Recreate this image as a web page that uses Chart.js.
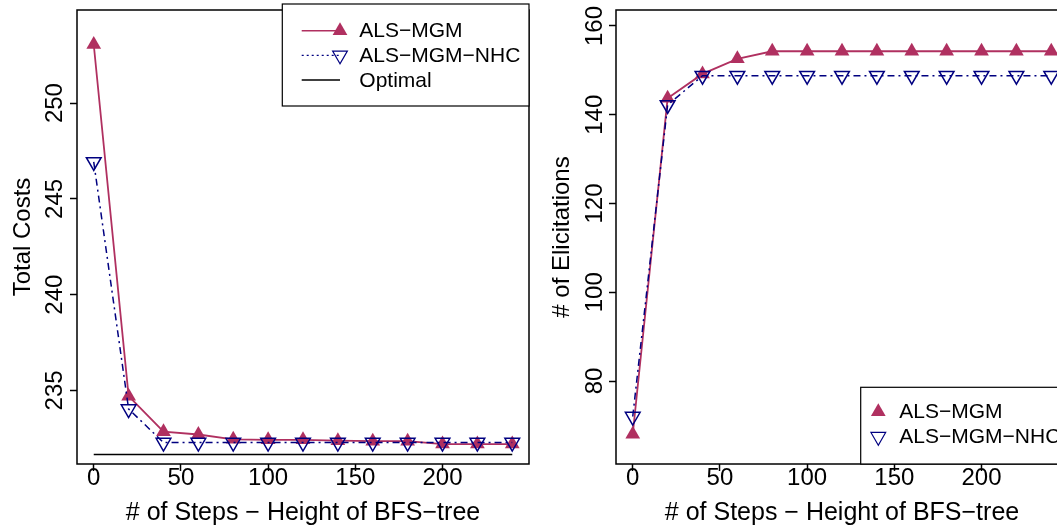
<!DOCTYPE html>
<html>
<head>
<meta charset="utf-8">
<script src="https://cdn.jsdelivr.net/npm/chart.js@4.4.1/dist/chart.umd.min.js"></script>
<style>
  html, body { margin: 0; padding: 0; background: #fff; overflow: hidden; width: 1057px; height: 529px; }
  .wrap { position: absolute; top: 0; width: 545px; height: 529px; }
</style>
</head>
<body>
<div class="wrap" style="left:0"><canvas id="cost-chart" width="545" height="529"></canvas></div>
<div class="wrap" style="left:545px"><canvas id="elic-chart" width="545" height="529"></canvas></div>
<script>
const steps = [0, 20, 40, 60, 80, 100, 120, 140, 160, 180, 200, 220, 240];
const costMgm = [253.06, 234.7, 232.85, 232.7, 232.45, 232.42, 232.42, 232.38, 232.35, 232.35, 232.2, 232.2, 232.2];
const costNhc = [246.93, 234.03, 232.28, 232.28, 232.28, 232.28, 232.28, 232.28, 232.28, 232.28, 232.28, 232.28, 232.28];
const optimalSteps = [0, 240];
const costOptimal = [231.65, 231.65];
const elicMgm = [68.0, 143.7, 149.2, 152.6, 154.3, 154.3, 154.3, 154.3, 154.3, 154.3, 154.3, 154.3, 154.3];
const elicNhc = [72.0, 142.2, 148.8, 148.8, 148.8, 148.8, 148.8, 148.8, 148.8, 148.8, 148.8, 148.8, 148.8];
const xTicks = [0, 50, 100, 150, 200];
const costTicks = [235, 240, 245, 250];
const elicTicks = [80, 100, 120, 140, 160];

const MAROON = "#B03060";
const NAVY = "#000080";
const FONT = "'Liberation Sans', Arial, Helvetica, sans-serif";
const xTitle = "# of Steps \u2212 Height of BFS\u2212tree";

const toPoints = (xs, ys) => xs.map((x, i) => ({ x: x, y: ys[i] }));

// R style frame around the plot region
const boxPlugin = {
  id: "box",
  afterDraw(chart) {
    const { ctx, chartArea: a } = chart;
    ctx.save();
    ctx.strokeStyle = "#000";
    ctx.lineWidth = 1.5;
    ctx.strokeRect(a.left, a.top, a.right - a.left, a.bottom - a.top);
    ctx.restore();
  },
};

// y tick labels, rotated like R (las = 0)
const yLabelPlugin = {
  id: "yLabels",
  afterDraw(chart, args, opts) {
    const { ctx } = chart;
    const scale = chart.scales.y;
    ctx.save();
    ctx.fillStyle = "#000";
    ctx.font = "24px " + FONT;
    ctx.textAlign = "center";
    ctx.textBaseline = "middle";
    opts.values.forEach((v) => {
      const y = scale.getPixelForValue(v);
      ctx.save();
      ctx.translate(opts.x, y);
      ctx.rotate(-Math.PI / 2);
      ctx.fillText(String(v), 0, 0);
      ctx.restore();
    });
    ctx.restore();
  },
};

const legendPlugin = {
  id: "rLegend",
  afterDraw(chart, args, opts) {
    const { ctx } = chart;
    const b = opts.box;
    ctx.save();
    ctx.fillStyle = "#fff";
    ctx.fillRect(b.left, b.top, b.right - b.left, b.bottom - b.top);
    ctx.strokeStyle = "#000";
    ctx.lineWidth = 1.2;
    ctx.strokeRect(b.left, b.top, b.right - b.left, b.bottom - b.top);
    opts.items.forEach((item, i) => {
      const y = opts.rowY[i];
      if (item.line) {
        ctx.save();
        ctx.strokeStyle = item.color;
        ctx.lineWidth = item.line === "dotted" ? 1.2 : 1.5;
        ctx.setLineDash(item.line === "dotted" ? [2, 3] : []);
        ctx.beginPath();
        ctx.moveTo(opts.lineX[0], y);
        ctx.lineTo(opts.lineX[1], y);
        ctx.stroke();
        ctx.restore();
      }
      if (item.marker) {
        ctx.save();
        ctx.strokeStyle = item.color;
        ctx.fillStyle = item.filled ? item.color : "rgba(0,0,0,0)";
        Chart.helpers.drawPoint(ctx, {
          pointStyle: "triangle",
          rotation: item.rotation,
          radius: 8.5,
          borderWidth: item.filled ? 0 : 1.5,
        }, opts.markerX, y);
        ctx.restore();
      }
      ctx.fillStyle = "#000";
      ctx.font = "21px " + FONT;
      ctx.textAlign = "left";
      ctx.textBaseline = "middle";
      ctx.fillText(item.label, opts.textX, y + 1);
    });
    ctx.restore();
  },
};

function seriesSets(mgm, nhc) {
  return [
    {
      label: "ALS\u2212MGM",
      data: toPoints(steps, mgm),
      borderColor: MAROON,
      backgroundColor: MAROON,
      borderWidth: 1.8,
      pointStyle: "triangle",
      pointRadius: 8.5,
      pointBorderWidth: 0,
      pointBackgroundColor: MAROON,
      tension: 0,
      order: 1,
    },
    {
      label: "ALS\u2212MGM\u2212NHC",
      data: toPoints(steps, nhc),
      borderColor: NAVY,
      backgroundColor: "rgba(0,0,0,0)",
      borderWidth: 1.5,
      borderDash: [7, 4, 2, 4],
      pointStyle: "triangle",
      pointRotation: 180,
      pointRadius: 8.5,
      pointBorderWidth: 1.5,
      pointBorderColor: NAVY,
      pointBackgroundColor: "rgba(0,0,0,0)",
      tension: 0,
      order: 0,
    },
  ];
}

function makeOptions(cfg) {
  return {
    responsive: false,
    animation: false,
    devicePixelRatio: 1,
    layout: { padding: { left: 0, top: 4, right: cfg.padRight, bottom: 0 } },
    plugins: {
      legend: { display: false },
      tooltip: { enabled: false },
      yLabels: { values: cfg.yTicks, x: cfg.yLabelX },
      rLegend: cfg.legend,
    },
    scales: {
      x: {
        type: "linear",
        min: -9.6,
        max: 249.6,
        afterBuildTicks: (s) => { s.ticks = xTicks.map((v) => ({ value: v })); },
        afterFit: (s) => { s.height = 65; },
        border: { display: false },
        grid: { drawOnChartArea: false, drawTicks: true, tickLength: 7, tickColor: "#000", tickWidth: 1.5 },
        ticks: { color: "#000", font: { family: FONT, size: 24 }, padding: -7, maxRotation: 0, autoSkip: false },
        title: { display: true, text: xTitle, color: "#000", font: { family: FONT, size: 25 }, padding: { top: 0, bottom: 1 } },
      },
      y: {
        type: "linear",
        min: cfg.yMin,
        max: cfg.yMax,
        afterBuildTicks: (s) => { s.ticks = cfg.yTicks.map((v) => ({ value: v })); },
        afterFit: (s) => { s.width = cfg.yWidth; },
        border: { display: false },
        grid: { drawOnChartArea: false, drawTicks: true, tickLength: 7, tickColor: "#000", tickWidth: 1.5 },
        ticks: { display: false },
        title: { display: true, text: cfg.yTitle, color: "#000", font: { family: FONT, size: 24 }, padding: { top: cfg.yTitlePad, bottom: 0 } },
      },
    },
  };
}

const costChart = new Chart(document.getElementById("cost-chart"), {
  type: "line",
  data: {
    datasets: seriesSets(costMgm, costNhc).concat([
      {
        label: "Optimal",
        data: toPoints(optimalSteps, costOptimal),
        borderColor: "#000",
        borderWidth: 1.5,
        pointRadius: 0,
        order: 2,
      },
    ]),
  },
  options: makeOptions({
    padRight: 545 - 529,
    yMin: 231.16,
    yMax: 254.86,
    yTicks: costTicks,
    yWidth: 77,
    yLabelX: 55.7,
    yTitle: "Total Costs",
    yTitlePad: 9,
    legend: {
      box: { left: 282.3, top: 4, right: 529, bottom: 106 },
      rowY: [30.7, 55.3, 80],
      lineX: [301.7, 340],
      markerX: 340,
      textX: 359.3,
      items: [
        { label: "ALS\u2212MGM", color: MAROON, line: "solid", marker: true, filled: true, rotation: 0 },
        { label: "ALS\u2212MGM\u2212NHC", color: NAVY, line: "dotted", marker: true, filled: false, rotation: 180 },
        { label: "Optimal", color: "#000", line: "solid", marker: false },
      ],
    },
  }),
  plugins: [boxPlugin, yLabelPlugin, legendPlugin],
});

const elicChart = new Chart(document.getElementById("elic-chart"), {
  type: "line",
  data: { datasets: seriesSets(elicMgm, elicNhc) },
  options: makeOptions({
    padRight: 545 - 523,
    yMin: 61.3,
    yMax: 163.6,
    yTicks: elicTicks,
    yWidth: 71,
    yLabelX: 50.3,
    yTitle: "# of Elicitations",
    yTitlePad: 3.3,
    legend: {
      box: { left: 315.7, top: 387.3, right: 523, bottom: 464 },
      rowY: [411.7, 436.7],
      lineX: [0, 0],
      markerX: 333.3,
      textX: 354.3,
      items: [
        { label: "ALS\u2212MGM", color: MAROON, line: null, marker: true, filled: true, rotation: 0 },
        { label: "ALS\u2212MGM\u2212NHC", color: NAVY, line: null, marker: true, filled: false, rotation: 180 },
      ],
    },
  }),
  plugins: [boxPlugin, yLabelPlugin, legendPlugin],
});
</script>
</body>
</html>
